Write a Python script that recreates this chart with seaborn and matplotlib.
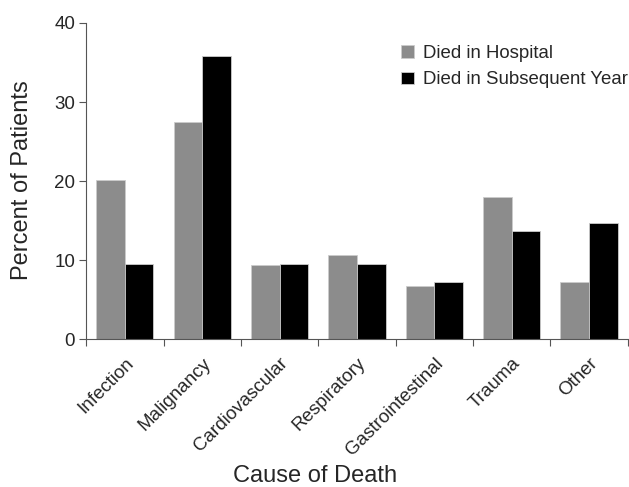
import pandas as pd
import matplotlib.pyplot as plt
import seaborn as sns

# -----------------------------
# Data
causes = ['Infection', 'Malignancy', 'Cardiovascular', 'Respiratory',
          'Gastrointestinal', 'Trauma', 'Other']
died_hospital = [20.1, 27.5, 9.4, 10.7, 6.7, 18.0, 7.3]
died_subsequent = [9.5, 35.8, 9.5, 9.5, 7.3, 13.7, 14.7]
series = ['Died in Hospital', 'Died in Subsequent Year']

df = pd.DataFrame({
    'Cause': causes * 2,
    'Percent': died_hospital + died_subsequent,
    'Group': [series[0]] * len(causes) + [series[1]] * len(causes),
})

# -----------------------------
sns.set_style("ticks")
plt.rcParams['font.family'] = ['Liberation Sans', 'DejaVu Sans']

fig = plt.figure(figsize=(6.29, 4.87), dpi=100)
ax = fig.add_axes([0.137, 0.303, 0.861, 0.65])

sns.barplot(data=df, x='Cause', y='Percent', hue='Group', order=causes,
            hue_order=series, palette=['#8c8c8c', '#000000'],
            width=0.74, edgecolor='#cccccc', linewidth=0.6, ax=ax)

ax.set_ylim(0, 40)
ax.set_yticks([0, 10, 20, 30, 40])
ax.set_xlim(-0.5, len(causes) - 0.5)
ax.tick_params(axis='y', labelsize=13.5, length=5, width=0.8, color='#555555', pad=3)

# ticks between categories, labels at category centres
ax.set_xticks([i - 0.5 for i in range(len(causes) + 1)], minor=False)
ax.set_xticklabels([])
ax.set_xticks(range(len(causes)), minor=True)
ax.set_xticklabels(causes, minor=True, rotation=45, ha='right',
                   rotation_mode='anchor', fontsize=13.5)
ax.tick_params(axis='x', which='major', length=5, width=0.8, color='#555555')
ax.tick_params(axis='x', which='minor', length=0, pad=11)

for s in ['left', 'bottom']:
    ax.spines[s].set_color('#555555')
    ax.spines[s].set_linewidth(0.8)
sns.despine(ax=ax)

ax.set_xlabel('Cause of Death', fontsize=17)
ax.set_ylabel('Percent of Patients', fontsize=17)
ax.xaxis.label.set_va('center')
ax.yaxis.label.set_va('center')
ax.xaxis.set_label_coords(0.423, -0.432)
ax.yaxis.set_label_coords(-0.118, 0.503)

leg = ax.legend(loc='upper right', bbox_to_anchor=(0.998, 1 - 45 / 487),
                bbox_transform=fig.transFigure, frameon=False,
                fontsize=13.4, handlelength=0.65, handleheight=0.65,
                handletextpad=0.5, labelspacing=0.5, borderpad=0,
                borderaxespad=0)

fig.savefig('out.png', dpi=100)
